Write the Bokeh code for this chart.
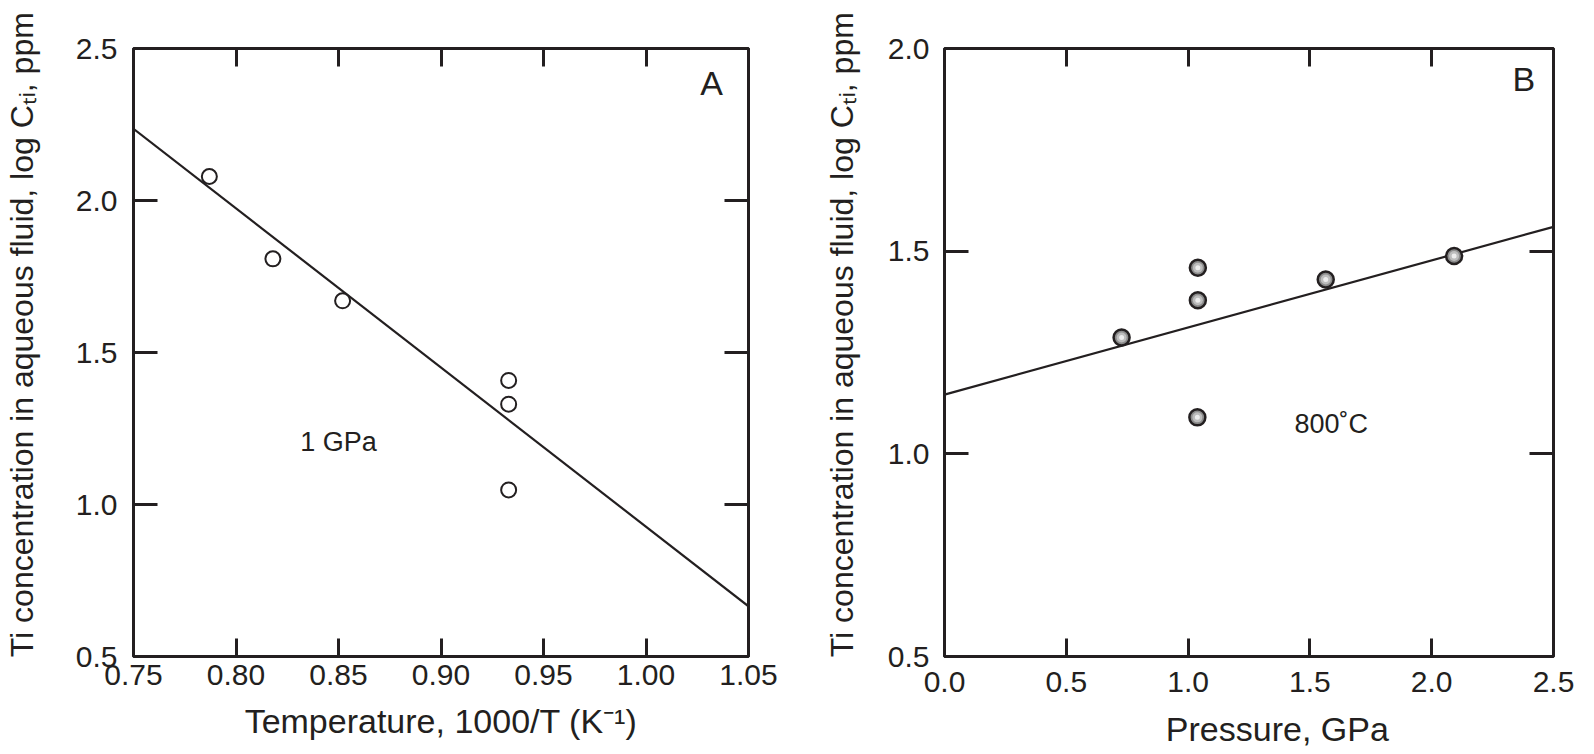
from bokeh.plotting import figure
from bokeh.models import Range1d, LinearAxis, FixedTicker, NumeralTickFormatter, Label
from bokeh.layouts import row
from bokeh.embed import file_html
from bokeh.resources import INLINE

# ---------------- data ----------------
# Panel A: 1 GPa, log C_Ti vs 1000/T
temp_inv = [0.787, 0.818, 0.852, 0.933, 0.933, 0.933]
temp_logC = [2.079, 1.808, 1.670, 1.408, 1.330, 1.048]
fitA_x = [0.75, 1.05]
fitA_y = [2.236, 0.665]
ticksA_x = [0.75, 0.80, 0.85, 0.90, 0.95, 1.00, 1.05]
ticksA_y = [0.5, 1.0, 1.5, 2.0, 2.5]

# Panel B: 800 C, log C_Ti vs pressure
pres = [0.727, 1.040, 1.040, 1.038, 1.565, 2.092]
pres_logC = [1.287, 1.459, 1.379, 1.090, 1.430, 1.488]
fitB_x = [0.0, 2.5]
fitB_y = [1.146, 1.560]
ticksB_x = [0.0, 0.5, 1.0, 1.5, 2.0, 2.5]
ticksB_y = [0.5, 1.0, 1.5, 2.0]

NB = "\u00a0"
YLABEL = NB * 4 + "Ti concentration in aqueous fluid, log C\u209c\u1d62, ppm"
XLABEL_A = "Temperature, 1000/T (K\u207b\u00b9)"
XLABEL_B = NB * 6 + "Pressure, GPa"

INK = "#231f20"
FONT = "Liberation Sans"
TICK_FS = "30px"
LABEL_FS = "34px"
YLAB_FS = "32px"
H = 754


def style_axis(ax, ticks, fmt, tick_len, standoff, labels=True):
    ax.ticker = FixedTicker(ticks=ticks)
    ax.formatter = NumeralTickFormatter(format=fmt)
    ax.axis_line_color = None
    ax.major_tick_in = tick_len
    ax.major_tick_out = 0
    ax.major_tick_line_width = 3
    ax.major_tick_line_color = INK
    ax.minor_tick_line_color = None
    ax.major_label_text_font = FONT
    ax.major_label_text_color = INK
    ax.major_label_standoff = standoff
    ax.major_label_text_font_size = TICK_FS
    ax.axis_label_text_font = FONT
    ax.axis_label_text_font_size = LABEL_FS
    ax.axis_label_text_font_style = "normal"
    ax.axis_label_text_color = INK
    if not labels:
        ax.major_label_text_font_size = "1px"
        ax.major_label_text_color = None
        ax.major_label_text_alpha = 0
        ax.major_label_standoff = 0


def make_fig(xr, yr, width, mbl, mbr, mbt, mbb):
    p = figure(width=width, height=H, x_range=Range1d(*xr), y_range=Range1d(*yr),
               title=None, output_backend="svg", toolbar_location=None,
               min_border_left=mbl, min_border_right=mbr,
               min_border_top=mbt, min_border_bottom=mbb)
    p.xgrid.grid_line_color = None
    p.ygrid.grid_line_color = None
    p.outline_line_color = INK
    p.outline_line_width = 3
    p.background_fill_color = "white"
    p.border_fill_color = "white"
    return p


def add_text(p, x, y, text, size, align="center", baseline="middle"):
    p.add_layout(Label(x=x, y=y, text=text, text_font=FONT, text_font_size=size,
                       text_color=INK, text_align=align, text_baseline=baseline))


# ---------------- Panel A ----------------
pA = make_fig((0.75, 1.05), (0.5, 2.5), 820, 131, 72, 48, 98)
style_axis(pA.xaxis[0], ticksA_x, "0.00", 18, 8)
style_axis(pA.yaxis[0], ticksA_y, "0.0", 24, 16)
pA.xaxis[0].axis_label = XLABEL_A
pA.xaxis[0].axis_label_standoff = 14
pA.yaxis[0].axis_label = YLABEL
pA.yaxis[0].axis_label_text_font_size = YLAB_FS
pA.yaxis[0].axis_label_standoff = 33
topA = LinearAxis()
style_axis(topA, ticksA_x, "0.00", 18, 0, labels=False)
pA.add_layout(topA, "above")
rightA = LinearAxis()
style_axis(rightA, ticksA_y, "0.0", 24, 0, labels=False)
pA.add_layout(rightA, "right")

pA.line(fitA_x, fitA_y, line_color=INK, line_width=2.2)
pA.scatter(temp_inv, temp_logC, size=15, fill_color="white", line_color=INK, line_width=2)

add_text(pA, 0.850, 1.2066, "1 GPa", "27px")
add_text(pA, 1.032, 2.387, "A", "34px")

# ---------------- Panel B ----------------
pB = make_fig((0.0, 2.5), (0.5, 2.0), 774, 124, 41, 48, 98)
style_axis(pB.xaxis[0], ticksB_x, "0.0", 18, 15)
style_axis(pB.yaxis[0], ticksB_y, "0.0", 24, 15)
pB.xaxis[0].axis_label = XLABEL_B
pB.xaxis[0].axis_label_standoff = 15
pB.yaxis[0].axis_label = YLABEL
pB.yaxis[0].axis_label_text_font_size = YLAB_FS
pB.yaxis[0].axis_label_standoff = 25
topB = LinearAxis()
style_axis(topB, ticksB_x, "0.0", 18, 0, labels=False)
pB.add_layout(topB, "above")
rightB = LinearAxis()
style_axis(rightB, ticksB_y, "0.0", 24, 0, labels=False)
pB.add_layout(rightB, "right")

pB.line(fitB_x, fitB_y, line_color=INK, line_width=2.2)
pB.scatter(pres, pres_logC, size=16, fill_color="#8c8c8c", line_color=INK, line_width=2.5)
pB.scatter(pres, pres_logC, size=10, fill_color="#bdbdbd", line_color=None)
pB.scatter(pres, pres_logC, size=5, fill_color="#ededed", line_color=None)

add_text(pB, 1.588, 1.073, "800˚C", "27px")
add_text(pB, 2.378, 1.925, "B", "34px")

layout = row(pA, pB)
open("out.html", "w").write(file_html(layout, INLINE))
